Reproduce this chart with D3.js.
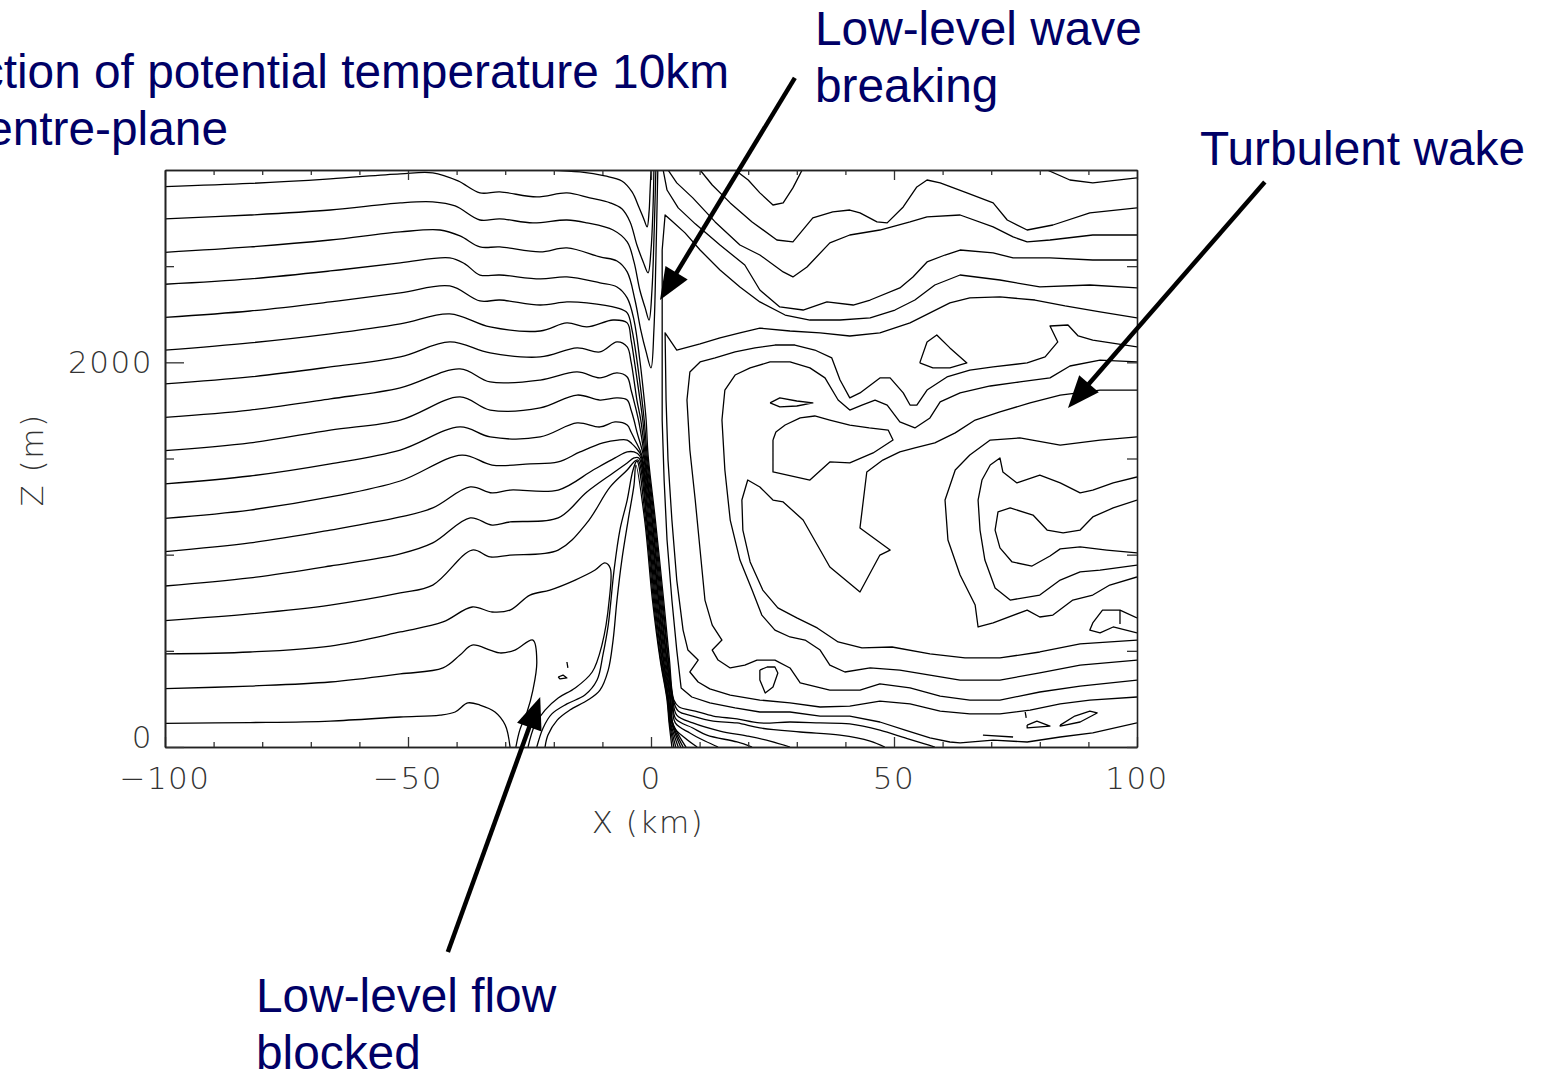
<!DOCTYPE html>
<html>
<head>
<meta charset="utf-8">
<script src="https://cdn.jsdelivr.net/npm/d3@7"></script>
<style>
  html, body { margin: 0; padding: 0; background: #fff; }
  svg { display: block; }
  .tick-label { font-family: "DejaVu Sans", sans-serif; font-weight: 200; fill: #333; font-size: 31px; letter-spacing: 1.5px; }
  .note { font-family: "Liberation Sans", Arial, sans-serif; fill: #000066; font-size: 47.8px; }
</style>
</head>
<body>
<svg id="chart" width="1544" height="1069"></svg>
<script>
// ---- axes ----
var xMajor = [-100, -50, 0, 50, 100];
var xMinor = [-90, -80, -70, -60, -40, -30, -20, -10, 10, 20, 30, 40, 60, 70, 80, 90];
var xTickLabels = ['\u2212100', '\u221250', '0', '50', '100'];
var zMajor = [0, 2000];
var zMinor = [500, 1000, 1500, 2500];
var zTickLabels = ['0', '2000'];

// ---- contours, [x km, z m] ----
// upstream isentropes that fold into tongues at the summit
var lineT0 = [[-20.8,3000],[-14.6,2990],[-9.5,2969],[-6.0,2943],[-3.9,2886],[-2.5,2808],[-1.4,2740],[-0.8,2704],[-0.4,2782],[-0.2,2886],[0,3000]];
var lineT1 = [[-100,2914],[-82.5,2930],[-66,2954],[-51.6,2980],[-44.9,2985],[-39.7,2943],[-35.2,2881],[-31.1,2886],[-23.5,2860],[-17.3,2881],[-12.6,2855],[-8.4,2829],[-6.0,2798],[-4.3,2730],[-2.9,2610],[-1.6,2522],[-0.6,2465],[0,2584],[0.4,2792],[0.6,3000]];
var lineT2 = [[-100,2746],[-82.5,2766],[-66,2792],[-51.6,2829],[-44.9,2834],[-40.3,2813],[-35.2,2740],[-31.1,2746],[-24.3,2725],[-17.3,2740],[-13.2,2725],[-7.8,2688],[-4.9,2626],[-3.5,2522],[-2.3,2376],[-1.2,2283],[-0.4,2220],[0.2,2376],[0.6,2636],[1.0,3000]];
var lineT3 = [[-100,2572],[-82.5,2600],[-66,2636],[-51.6,2678],[-43.4,2688],[-39.3,2657],[-35.2,2600],[-31.1,2600],[-22.8,2574],[-17.3,2595],[-10.5,2548],[-7.0,2527],[-4.9,2470],[-3.3,2324],[-2.1,2168],[-1.0,2054],[0,1971],[0.6,2168],[1.0,2532],[1.4,3000]];

// upstream isentropes that plunge down the lee slope
var lineB4 = [[-100,2406],[-82.5,2434],[-66,2475],[-51.6,2517],[-41.4,2543],[-38.3,2512],[-35.2,2454],[-31.1,2454],[-22.8,2434],[-17.3,2444],[-10.5,2413],[-7.0,2392],[-4.9,2335],[-3.5,2220],[-2.3,2012],[-1.6,1856],[-1.0,1700],[-0.6,1518],[0.9,1180],[2.6,764],[3.8,452],[4.7,244],[5.8,208],[9.1,187],[12.8,161],[17.7,146],[22.4,125],[28.6,130],[34.8,125],[40.9,120],[47.1,88],[52.3,47],[56.3,16],[58.4,0]];
var lineB5 = [[-100,2234],[-82.5,2267],[-66,2314],[-51.6,2361],[-41.4,2397],[-35.2,2319],[-31.1,2324],[-22.8,2298],[-17.3,2314],[-13.2,2309],[-7.0,2283],[-4.9,2257],[-3.9,2168],[-2.9,2012],[-2.1,1856],[-1.4,1700],[-0.8,1518],[0.7,1180],[2.4,764],[3.6,452],[4.6,244],[5.6,187],[8.6,161],[12.8,135],[17.7,125],[22.4,99],[30.7,78],[38.9,62],[45.1,31],[48.1,0]];
var lineB6 = [[-100,2063],[-82.5,2101],[-66,2148],[-51.6,2200],[-41.4,2252],[-33.1,2184],[-22.8,2163],[-17.3,2205],[-13.2,2184],[-7.8,2220],[-4.9,2205],[-4.1,2116],[-3.3,1986],[-2.5,1846],[-1.7,1700],[-1.0,1518],[0.5,1180],[2.2,764],[3.5,452],[4.5,244],[5.3,166],[8.6,125],[14.2,83],[19.8,57],[24.5,31],[28.6,0]];
var lineB7 = [[-100,1888],[-82.5,1924],[-66,1976],[-51.6,2028],[-41.4,2106],[-33.1,2049],[-22.8,2028],[-15.2,2075],[-10.5,2054],[-7.0,2106],[-4.9,2080],[-4.1,2002],[-3.5,1908],[-2.9,1804],[-2.1,1700],[-1.2,1518],[0.3,1180],[2.0,764],[3.3,452],[4.4,244],[5.1,146],[8.6,99],[11.5,62],[17.7,26],[20.8,0]];
var lineB8 = [[-100,1714],[-82.5,1752],[-66,1810],[-51.6,1867],[-39.3,1966],[-33.1,1898],[-22.8,1908],[-15.2,1950],[-10.5,1919],[-7.0,1945],[-4.9,1924],[-4.1,1856],[-3.3,1778],[-2.5,1690],[-1.4,1518],[0.2,1180],[1.8,764],[3.2,452],[4.3,244],[5.0,125],[8.0,73],[11.1,31],[13.8,0]];
var lineB9 = [[-100,1541],[-82.5,1581],[-66,1648],[-51.6,1700],[-39.3,1820],[-33.1,1752],[-22.8,1763],[-15.2,1830],[-10.5,1804],[-7.0,1815],[-4.9,1804],[-4.1,1752],[-3.5,1700],[-2.9,1638],[-1.6,1518],[0,1180],[1.6,764],[3.0,452],[4.1,244],[4.7,104],[7.0,47],[9.5,0]];
var lineB10 = [[-100,1368],[-82.5,1409],[-66,1472],[-51.6,1544],[-39.3,1664],[-33.1,1612],[-22.8,1612],[-15.2,1685],[-10.5,1664],[-7.4,1690],[-4.9,1674],[-4.1,1638],[-3.3,1596],[-1.9,1518],[-0.2,1180],[1.5,764],[2.8,452],[4.0,244],[4.4,130],[7.2,0]];
var lineB11 = [[-100,1189],[-82.5,1232],[-66,1300],[-51.6,1383],[-38.9,1518],[-32.7,1466],[-24.9,1472],[-19.1,1482],[-14.6,1534],[-9.9,1581],[-6.8,1596],[-4.9,1596],[-3.9,1576],[-3.1,1555],[-2.1,1518],[-0.4,1180],[1.3,764],[2.6,452],[3.9,244],[4.3,130],[6.6,0]];
var lineB12 = [[-100,1016],[-82.5,1061],[-66,1128],[-51.6,1196],[-44.9,1243],[-37.2,1352],[-32.7,1321],[-29.0,1336],[-19.1,1336],[-11.9,1440],[-7.4,1503],[-4.9,1534],[-3.5,1534],[-2.3,1513],[-0.6,1180],[1.1,764],[2.5,452],[3.7,244],[4.2,130],[6.1,0]];
var lineB13 = [[-100,837],[-82.5,879],[-66,941],[-51.6,1004],[-44.9,1061],[-37.2,1191],[-32.7,1154],[-29.0,1170],[-19.1,1191],[-13.2,1326],[-7.8,1425],[-4.9,1477],[-3.5,1503],[-2.5,1503],[-0.8,1180],[0.9,764],[2.3,452],[3.6,244],[4.0,130],[5.6,0]];
var lineB14 = [[-100,657],[-82.5,692],[-66,738],[-51.6,801],[-44.9,842],[-36.8,1024],[-33.1,988],[-29.0,998],[-19.1,1024],[-13.2,1165],[-8.4,1352],[-4.9,1440],[-3.5,1482],[-2.7,1492],[-0.9,1180],[0.7,764],[2.2,452],[3.5,244],[3.9,130],[5.1,0]];
// surface-hugging lines over the hill
var lineS1 = [[-23.5,0],[-22.2,99],[-20.4,172],[-17.3,224],[-13.6,270],[-11.1,348],[-9.9,478],[-8.8,634],[-7.6,920],[-6.4,1128],[-4.9,1284],[-3.7,1440],[-2.9,1487],[-1.1,1180],[0.5,764],[2.0,452],[3.4,244],[3.8,130],[4.7,0]];
var lineS2 = [[-21.8,0],[-21.2,62],[-19.3,140],[-16.7,192],[-13.0,244],[-10.5,296],[-8.8,400],[-7.8,556],[-7.0,764],[-6.0,972],[-4.7,1180],[-3.5,1362],[-3.1,1466],[-1.3,1180],[0.3,764],[1.9,452],[3.3,244],[3.7,130],[4.3,0]];
// blocked low-level isentropes
var lineL15 = [[-100,484],[-82.5,494],[-66,525],[-51.6,598],[-42.8,650],[-36.8,728],[-32.7,702],[-29.0,712],[-24.9,790],[-20.8,816],[-15.6,868],[-11.5,920],[-9.5,957],[-8.4,931],[-8.6,764],[-10.1,530],[-12.1,390],[-15.6,307],[-19.1,255],[-21.8,192],[-23.9,114],[-25.3,0]];
var lineL16 = [[-100,303],[-82.5,317],[-66,338],[-51.6,380],[-42.8,411],[-39.3,478],[-36.8,530],[-33.1,504],[-31.1,489],[-28.0,504],[-24.3,556],[-23.5,442],[-24.3,296],[-25.5,182],[-27.0,88],[-27.8,0]];
var lineL17 = [[-100,123],[-82.5,127],[-66,135],[-51.6,156],[-43.4,166],[-40.3,182],[-37.7,229],[-35.2,218],[-32.1,182],[-30.0,114],[-29.0,0]];

// lee side and turbulent wake
var wakeTop = [[81.5,3000],[86.2,2948],[90.9,2933],[100,2959]];
var wakeA = [[17.3,3000],[20.0,2948],[22.4,2881],[25.1,2818],[27.2,2829],[29.2,2907],[31.1,3000]];
var wakeB = [[10.1,3000],[12.6,2922],[16.3,2829],[20.8,2730],[25.9,2636],[29.2,2626],[33.3,2751],[37.4,2782],[40.9,2792],[43.0,2777],[46.5,2730],[48.6,2725],[51.9,2808],[54.7,2912],[56.8,2948],[59.5,2933],[65.0,2881],[70.4,2829],[73.3,2740],[77.4,2688],[82.7,2714],[90.3,2777],[100,2803]];
var wakeC = [[3.5,3000],[5.3,2933],[8.6,2855],[13.2,2730],[18.3,2610],[22.4,2558],[27.2,2470],[29.2,2444],[32.1,2496],[36.8,2621],[40.9,2662],[47.1,2688],[53.3,2730],[56.8,2756],[63.6,2766],[70.4,2704],[74.5,2652],[77.4,2626],[82.1,2636],[90.9,2662],[100,2662]];
var wakeD = [[2.5,3000],[3.3,2896],[5.6,2803],[9.1,2720],[14.2,2610],[19.3,2506],[22.4,2376],[26.5,2288],[31.3,2272],[36.2,2314],[41.6,2298],[45.1,2324],[51.2,2387],[53.9,2444],[56.8,2522],[60.5,2558],[63.6,2584],[70.4,2569],[74.5,2543],[82.1,2543],[90.9,2532],[100,2532]];
var wakeE = [[100,2387],[90.3,2402],[80.0,2392],[71.8,2428],[63.6,2454],[58.4,2402],[54.3,2324],[50.2,2272],[45.1,2231],[38.9,2220],[32.7,2220],[27.6,2246],[22.4,2314],[18.3,2392],[14.2,2480],[10.1,2584],[7.0,2673],[4.3,2735],[2.9,2766],[2.3,2584],[2.3,2168],[2.3,1700],[2.7,1388],[3.3,1076],[4.3,764],[5.3,504],[6.2,307],[8.4,260],[12.1,229],[17.3,203],[22.4,182],[28.6,182],[34.8,161],[40.9,161],[47.1,130],[52.3,88],[57.4,47],[61.5,26],[63.6,21],[70.4,36],[77.4,26],[84.2,52],[90.9,73],[100,125]];
var wakeF = [[100,2231],[92.4,2262],[85.2,2293],[79.0,2324],[71.8,2340],[65.6,2335],[61.5,2309],[57.4,2257],[53.3,2205],[47.1,2153],[40.9,2137],[34.8,2153],[28.6,2163],[22.4,2178],[18.3,2153],[14.2,2127],[10.1,2096],[5.3,2064],[2.9,2153],[3.1,1804],[3.5,1492],[4.3,1180],[5.3,868],[6.6,608],[7.6,504],[9.7,452],[8.0,390],[9.7,338],[12.1,302],[16.3,270],[22.4,244],[28.6,229],[34.8,208],[40.9,213],[47.1,239],[53.3,224],[59.5,187],[65.6,172],[71.8,172],[78.0,192],[84.2,224],[90.3,244],[100,260]];
var wakeG = [[100,2080],[90.9,2116],[87.9,2137],[85.8,2194],[82.1,2189],[83.7,2106],[81.1,2028],[77.4,1997],[70.4,1976],[65.6,1960],[60.9,1924],[56.8,1856],[54.7,1778],[53.3,1778],[51.9,1841],[49.2,1919],[47.1,1919],[43.0,1841],[40.9,1815],[38.9,1908],[37.2,2023],[33.7,2064],[29.6,2090],[25.5,2090],[21.4,2075],[17.3,2054],[13.2,2023],[10.1,2002],[8.0,1950],[7.4,1804],[8.0,1544],[9.1,1284],[10.1,1024],[11.1,764],[12.6,634],[14.6,556],[12.6,504],[13.8,452],[16.3,411],[19.3,426],[21.8,452],[25.5,452],[28.6,411],[30.7,333],[36.8,296],[43.0,296],[47.1,328],[53.3,307],[59.5,265],[65.6,244],[71.8,244],[80.0,286],[88.3,317],[100,348]];
var wakeH = [[100,2002],[92.4,2012],[86.2,1981],[82.1,1919],[75.9,1898],[69.8,1877],[63.6,1841],[59.5,1794],[57.4,1711],[54.3,1659],[51.2,1690],[48.6,1778],[46.1,1804],[43.4,1778],[40.9,1752],[38.5,1804],[35.8,1919],[32.7,1971],[28.6,2002],[24.5,2002],[20.4,1971],[17.3,1934],[15.2,1856],[14.6,1700],[15.2,1440],[16.3,1180],[18.3,972],[20.8,816],[22.8,686],[25.5,608],[28.6,572],[31.7,556],[34.8,504],[36.8,426],[39.9,390],[45.1,411],[51.2,400],[57.4,374],[63.6,348],[71.8,348],[80.0,385],[88.3,426],[100,452]];
var wakeI = [[100,1856],[92.4,1856],[84.2,1830],[78.0,1789],[71.8,1742],[66.7,1700],[62.6,1633],[58.4,1581],[54.3,1555],[51.2,1534],[47.7,1492],[44.4,1430],[43.0,1139],[49.2,1024],[47.1,998],[45.1,905],[43.0,806],[36.8,936],[31.3,1180],[27.2,1274],[25.1,1284],[22.4,1352],[19.9,1388],[18.7,1284],[18.9,1128],[20.4,962],[23.0,816],[26.1,723],[30.0,671],[34.2,619],[38.5,546],[43.4,515],[49.6,520],[57.4,484],[64.6,463],[71.8,463],[80.0,494],[88.3,536],[100,556]];
var wakeJ = [[100,1612],[92.4,1596],[84.2,1570],[75.9,1607],[69.8,1596],[65.6,1518],[62.6,1440],[60.5,1284],[61.1,1076],[63.6,894],[66.7,738],[67.3,624],[70.4,645],[77.4,712],[80.0,676],[82.7,686],[86.8,764],[90.9,790],[94.4,842],[100,884]];
var wakeK = [[100,1404],[95.1,1373],[90.9,1336],[88.3,1321],[84.2,1373],[80.0,1414],[75.3,1373],[72.4,1430],[71.8,1503],[69.8,1466],[68.1,1388],[67.3,1284],[67.7,1128],[68.7,972],[70.8,827],[73.9,764],[80.0,790],[84.2,868],[88.3,910],[92.4,920],[100,946]];
var wakeL = [[100,1284],[95.1,1243],[90.9,1196],[88.3,1128],[84.8,1113],[81.5,1128],[78.6,1206],[73.9,1243],[71.4,1222],[70.8,1128],[71.8,1035],[74.3,962],[78.4,941],[82.1,993],[84.2,1030],[88.3,1040],[93.8,1024],[100,1009]];
var wakeN = [[68.3,62],[74.5,52]];

// closed or short pieces
var loop1 = [[55.3,1997],[56.8,2106],[58.8,2142],[61.5,2075],[65.0,1997],[61.5,1971],[58.0,1971],[55.3,1997]];
var loop2 = [[24.5,1789],[26.5,1815],[30.0,1799],[33.3,1789],[30.0,1773],[26.5,1768],[24.5,1789]];
var loop3 = [[100,671],[96.5,712],[92.9,712],[90.9,645],[90.3,608],[92.4,593],[95.1,624],[100,593]];
var loop3b = [[96.5,712],[96.5,640]];
var loop4 = [[77.4,114],[79.4,135],[82.1,109],[77.4,99],[77.4,114]];
var loop5 = [[84.2,114],[87.2,161],[90.3,187],[91.8,177],[88.3,130],[84.2,109],[84.2,114]];
var loop6 = [[77.0,182],[77.2,151]];
var loop7 = [[22.4,400],[23.9,416],[25.5,416],[26.1,385],[25.1,312],[23.5,281],[23.0,312],[22.4,348],[22.4,400]];
var loop8 = [[-17.3,442],[-17.1,411]];
var loop9 = [[-19.1,364],[-18.1,374],[-17.3,359],[-18.7,354],[-19.1,364]];
var loop10 = [[25.1,1596],[25.1,1430],[32.7,1388],[36.8,1482],[40.9,1477],[45.7,1529],[49.8,1596],[48.8,1648],[44.9,1659],[40.9,1674],[36.8,1700],[33.7,1721],[30.7,1711],[27.6,1674],[25.7,1638],[25.1,1596]];

var smoothLines = [lineT0, lineT1, lineT2, lineT3, lineB4, lineB5, lineB6, lineB7, lineB8, lineB9,
  lineB10, lineB11, lineB12, lineB13, lineB14, lineS1, lineS2, lineL15, lineL16, lineL17];
var wakeLines = [wakeTop, wakeA, wakeB, wakeC, wakeD, wakeE, wakeF, wakeG, wakeH, wakeI, wakeJ, wakeK, wakeL, wakeN,
  loop1, loop2, loop3, loop3b, loop4, loop5, loop6, loop7, loop8, loop9, loop10];

// ---- annotations: arrow tail and tip, [x km, z m] ----
var arrows = [
  { tail: [29.6, 3479], tip: [1.85, 2324] },
  { tail: [126.3, 2938], tip: [85.8, 1763] },
  { tail: [-41.8, -1066], tip: [-22.8, 260] }
];
var notes = [
  { lines: ['Cross-section of potential temperature 10km', 'centre-plane'], x: [729, 228], y: 88, anchor: 'end' },
  { lines: ['Low-level wave', 'breaking'], x: [815, 815], y: 45, anchor: 'start' },
  { lines: ['Turbulent wake'], x: [1200], y: 165, anchor: 'start' },
  { lines: ['Low-level flow', 'blocked'], x: [256, 256], y: 1012, anchor: 'start' }
];

var margin = { left: 165, right: 1137, top: 170, bottom: 747 };
var svg = d3.select('#chart');

var x = d3.scaleLinear().domain([-100, 100]).range([margin.left, margin.right]);
var z = d3.scaleLinear().domain([0, 3000]).range([margin.bottom, margin.top]);

svg.append('clipPath').attr('id', 'plot-clip')
  .append('rect')
  .attr('x', margin.left).attr('y', margin.top)
  .attr('width', margin.right - margin.left)
  .attr('height', margin.bottom - margin.top);

var plot = svg.append('g').attr('clip-path', 'url(#plot-clip)');

var smooth = d3.line()
  .x(function(d) { return x(d[0]); })
  .y(function(d) { return z(d[1]); })
  .curve(d3.curveCatmullRom.alpha(0.5));
var jagged = d3.line()
  .x(function(d) { return x(d[0]); })
  .y(function(d) { return z(d[1]); });

plot.selectAll('path.smooth').data(smoothLines).enter().append('path')
  .attr('class', 'smooth')
  .attr('d', smooth)
  .attr('fill', 'none')
  .attr('stroke', '#000')
  .attr('stroke-width', 1.3);

plot.selectAll('path.wake').data(wakeLines).enter().append('path')
  .attr('class', 'wake')
  .attr('d', jagged)
  .attr('fill', 'none')
  .attr('stroke', '#000')
  .attr('stroke-width', 1.3)
  .attr('stroke-linejoin', 'round');

// ---- frame and ticks (IDL style, ticks point inward) ----
function styleAxis(g) {
  g.select('.domain').attr('stroke', '#222').attr('stroke-width', 1.6);
  g.selectAll('.tick line').attr('stroke', '#333').attr('stroke-width', 1.3);
  g.selectAll('.tick text').remove();
}

svg.append('g').attr('transform', 'translate(0,' + margin.bottom + ')')
  .call(d3.axisBottom(x).tickValues(xMajor).tickSize(-10).tickSizeOuter(0)).call(styleAxis);
svg.append('g').attr('transform', 'translate(0,' + margin.bottom + ')')
  .call(d3.axisBottom(x).tickValues(xMinor).tickSize(-5).tickSizeOuter(0)).call(styleAxis);
svg.append('g').attr('transform', 'translate(0,' + margin.top + ')')
  .call(d3.axisTop(x).tickValues(xMajor).tickSize(-10).tickSizeOuter(0)).call(styleAxis);
svg.append('g').attr('transform', 'translate(0,' + margin.top + ')')
  .call(d3.axisTop(x).tickValues(xMinor).tickSize(-5).tickSizeOuter(0)).call(styleAxis);
svg.append('g').attr('transform', 'translate(' + margin.left + ',0)')
  .call(d3.axisLeft(z).tickValues(zMajor).tickSize(-19).tickSizeOuter(0)).call(styleAxis);
svg.append('g').attr('transform', 'translate(' + margin.left + ',0)')
  .call(d3.axisLeft(z).tickValues(zMinor).tickSize(-9).tickSizeOuter(0)).call(styleAxis);
svg.append('g').attr('transform', 'translate(' + margin.right + ',0)')
  .call(d3.axisRight(z).tickValues(zMajor.concat(zMinor)).tickSize(-10).tickSizeOuter(0)).call(styleAxis);

svg.selectAll('text.xlab').data(xMajor).enter().append('text')
  .attr('class', 'tick-label xlab')
  .attr('x', function(d) { return x(d); })
  .attr('y', margin.bottom + 42)
  .attr('text-anchor', 'middle')
  .text(function(d, i) { return xTickLabels[i]; });

svg.selectAll('text.zlab').data(zMajor).enter().append('text')
  .attr('class', 'tick-label zlab')
  .attr('x', margin.left - 12)
  .attr('y', function(d) { return Math.min(z(d), margin.bottom - 10) + 11; })
  .attr('text-anchor', 'end')
  .text(function(d, i) { return zTickLabels[i]; });

svg.append('text').attr('class', 'tick-label')
  .attr('x', (margin.left + margin.right) / 2 - 3)
  .attr('y', 833)
  .attr('text-anchor', 'middle')
  .text('X (km)');

svg.append('text').attr('class', 'tick-label')
  .attr('transform', 'translate(43,460) rotate(-90)')
  .attr('text-anchor', 'middle')
  .text('Z (m)');

// ---- annotation text and arrows ----
notes.forEach(function(n) {
  n.lines.forEach(function(t, i) {
    svg.append('text').attr('class', 'note')
      .attr('x', n.x[i])
      .attr('y', n.y + i * 57)
      .attr('text-anchor', n.anchor)
      .text(t);
  });
});

var arrowG = svg.append('g');
arrows.forEach(function(a) {
  var x0 = x(a.tail[0]), y0 = z(a.tail[1]);
  var x1 = x(a.tip[0]), y1 = z(a.tip[1]);
  var dx = x1 - x0, dy = y1 - y0, len = Math.sqrt(dx * dx + dy * dy);
  var ux = dx / len, uy = dy / len;
  var headLen = 32, headHalf = 13;
  var bx = x1 - ux * headLen, by = y1 - uy * headLen;
  arrowG.append('line')
    .attr('x1', x0).attr('y1', y0)
    .attr('x2', bx + ux * 4).attr('y2', by + uy * 4)
    .attr('stroke', '#000').attr('stroke-width', 4.5);
  arrowG.append('polygon')
    .attr('points', [
      [x1, y1],
      [bx - uy * headHalf, by + ux * headHalf],
      [bx + uy * headHalf, by - ux * headHalf]
    ].map(function(p) { return p.join(','); }).join(' '))
    .attr('fill', '#000');
});
</script>
</body>
</html>
